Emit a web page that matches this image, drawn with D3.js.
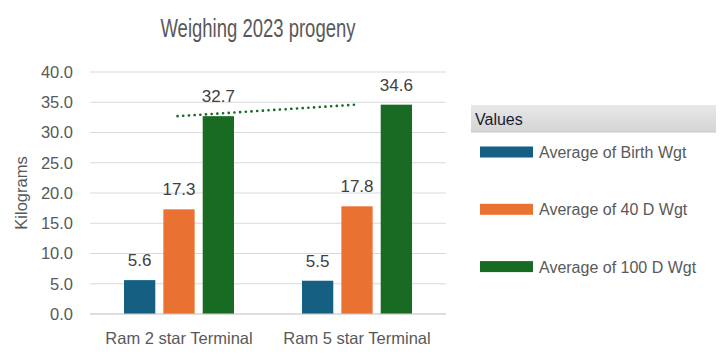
<!DOCTYPE html>
<html><head><meta charset="utf-8">
<script src="https://cdn.jsdelivr.net/npm/d3@7"></script>
<style>body{margin:0;background:#fff}svg{display:block}text{font-family:"Liberation Sans",Arial,sans-serif}</style>
</head><body><svg id="c" width="723" height="358"></svg>
<script>
const categories = ["Ram 2 star Terminal", "Ram 5 star Terminal"];
const seriesNames = ["Average of Birth Wgt", "Average of 40 D Wgt", "Average of 100 D Wgt"];
const birthWgt = [5.6, 5.5];
const d40Wgt = [17.3, 17.8];
const d100Wgt = [32.7, 34.6];
const yTicks = [0, 5, 10, 15, 20, 25, 30, 35, 40];
const colors = ["#156082", "#E97132", "#196B24"];
const seriesValues = [birthWgt, d40Wgt, d100Wgt];

const svg = d3.select("#c");
const x0 = d3.scaleBand().domain(categories).range([90, 446]).padding(0);
const x1 = d3.scaleBand().domain(seriesNames).range([34, 144]).paddingInner(0.205).paddingOuter(0);
const y = d3.scaleLinear().domain([0, 40]).range([314, 72]);

// gridlines
svg.append("g").selectAll("line").data(yTicks).join("line")
  .attr("x1", 90).attr("x2", 446).attr("y1", d => y(d)).attr("y2", d => y(d))
  .attr("stroke", "#d9d9d9").attr("stroke-width", 1);

// y axis labels
const yAxis = d3.axisLeft(y).tickValues(yTicks).tickFormat(d3.format(".1f")).tickSize(0).tickPadding(0);
const ya = svg.append("g").attr("transform", "translate(73,0)").call(yAxis);
ya.select(".domain").remove();
ya.selectAll("text").attr("fill", "#595959").style("font-size", "16.5px").style("font-family", '"Liberation Sans",Arial,sans-serif');

// bars
const groups = svg.append("g").selectAll("g").data(categories).join("g")
  .attr("transform", d => `translate(${x0(d)},0)`);
groups.each(function(cat, ci) {
  const g = d3.select(this);
  seriesNames.forEach((s, si) => {
    const v = seriesValues[si][ci];
    g.append("rect").attr("x", x1(s)).attr("width", x1.bandwidth())
      .attr("y", y(v)).attr("height", y(0) - y(v)).attr("fill", colors[si]);
    g.append("text").attr("x", x1(s) + x1.bandwidth() / 2).attr("y", y(v) - 14)
      .attr("text-anchor", "middle").attr("fill", "#404040").style("font-size", "17px")
      .text(v.toFixed(1));
  });
});

// x axis line
svg.append("line").attr("x1", 90).attr("x2", 446).attr("y1", y(0)).attr("y2", y(0))
  .attr("stroke", "#d0d0d0").attr("stroke-width", 1.2);
const xa = svg.append("g").attr("transform", `translate(0,${y(0)})`)
  .call(d3.axisBottom(x0).tickSize(0).tickPadding(18));
xa.select(".domain").remove();
xa.selectAll("text").attr("fill", "#595959").style("font-size", "16.5px").style("font-family", '"Liberation Sans",Arial,sans-serif');

// trendline for 100 D Wgt (linear through category centers)
const cx = categories.map(c => x0(c) + x0.bandwidth() / 2);
const xs = d100Wgt.map((_, i) => i + 1);
const mx = d3.mean(xs), my = d3.mean(d100Wgt);
const slope = d3.sum(xs.map((xi, i) => (xi - mx) * (d100Wgt[i] - my))) / d3.sum(xs.map(xi => (xi - mx) ** 2));
const icpt = my - slope * mx;
const trend = xs.map((xi, i) => [cx[i] - 1.5, y(icpt + slope * xi)]);
svg.append("path").attr("d", d3.line()(trend)).attr("stroke", "#196B24").attr("stroke-width", 2.6)
  .attr("stroke-dasharray", "0.1,5.6").attr("stroke-linecap", "round").attr("fill", "none");

// y title
svg.append("text").attr("transform", `translate(27,193) rotate(-90)`).attr("text-anchor", "middle")
  .attr("fill", "#595959").style("font-size", "16.5px").text("Kilograms");

// title
svg.append("text").attr("x", 258).attr("y", 37).attr("text-anchor", "middle")
  .attr("fill", "#595959").style("font-size", "26px")
  .attr("textLength", 195).attr("lengthAdjust", "spacingAndGlyphs")
  .text("Weighing 2023 progeny");

// legend
const defs = svg.append("defs");
const grad = defs.append("linearGradient").attr("id", "lg").attr("x1", 0).attr("x2", 0).attr("y1", 0).attr("y2", 1);
grad.append("stop").attr("offset", "0%").attr("stop-color", "#e8e8e8");
grad.append("stop").attr("offset", "100%").attr("stop-color", "#d4d4d4");
svg.append("rect").attr("x", 471).attr("y", 105).attr("width", 245).attr("height", 27).attr("fill", "url(#lg)");
svg.append("line").attr("x1", 471).attr("x2", 716).attr("y1", 132).attr("y2", 132).attr("stroke", "#c8c8c8");
svg.append("text").attr("x", 475).attr("y", 125).attr("fill", "#1a1a2e").style("font-size", "16px").text("Values");
const leg = svg.append("g").selectAll("g").data(seriesNames).join("g")
  .attr("transform", (d, i) => `translate(480,${152 + i * 57.3})`);
leg.append("rect").attr("x", 0).attr("y", -5.5).attr("width", 53).attr("height", 11).attr("fill", (d, i) => colors[i]);
leg.append("text").attr("x", 59).attr("y", 6).attr("fill", "#595959").style("font-size", "16px").text(d => d);
</script></body></html>
